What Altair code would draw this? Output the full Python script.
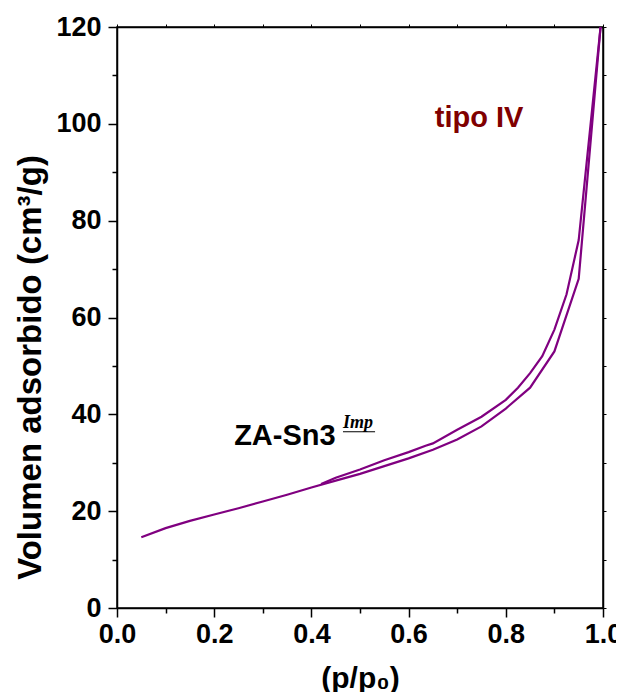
import altair as alt
import pandas as pd

# adsorption branch (lower)
ads_x = [0.05, 0.10, 0.15, 0.20, 0.25, 0.30, 0.35, 0.40, 0.45, 0.50, 0.55, 0.60,
         0.65, 0.70, 0.75, 0.80, 0.85, 0.90, 0.95, 0.995]
ads_y = [14.6, 16.5, 18.0, 19.3, 20.6, 22.0, 23.4, 24.9, 26.3, 27.7, 29.3, 30.9,
         32.7, 34.8, 37.5, 41.2, 45.5, 53.0, 68.0, 120.0]
# desorption branch (upper)
des_x = [0.995, 0.95, 0.925, 0.90, 0.875, 0.85, 0.825, 0.80, 0.75, 0.70, 0.65,
         0.635, 0.60, 0.55, 0.50, 0.45, 0.42]
des_y = [120.0, 76.0, 64.8, 57.5, 52.0, 48.5, 45.5, 43.0, 39.5, 36.8, 34.0,
         33.5, 32.2, 30.5, 28.6, 26.9, 25.6]

x_major = [0.0, 0.2, 0.4, 0.6, 0.8, 1.0]
x_minor = [0.1, 0.3, 0.5, 0.7, 0.9]
x_all = [round(i * 0.1, 1) for i in range(11)]
y_major = [0, 20, 40, 60, 80, 100, 120]
y_minor = [10, 30, 50, 70, 90, 110]
y_all = list(range(0, 130, 10))

rows = []
for i, (x, y) in enumerate(zip(ads_x, ads_y)):
    rows.append({"p": x, "v": y, "branch": "ads", "order": i})
for i, (x, y) in enumerate(zip(des_x, des_y)):
    rows.append({"p": x, "v": y, "branch": "des", "order": i})
df = pd.DataFrame(rows)

FONT = "Liberation Sans"
PURPLE = "#800080"

xscale = alt.Scale(domain=[0, 1.0], nice=False, zero=False)
yscale = alt.Scale(domain=[0, 120], nice=False)

common = dict(grid=False, domainColor="black", domainWidth=1.5, tickColor="black",
              tickWidth=1.5, labelFlush=False, labelOverlap=False)
common_nodomain = {k: v for k, v in common.items() if not k.startswith("domain")}

x_axis = alt.Axis(
    orient="bottom", values=x_major, format=".1f", tickSize=9,
    labelPadding=4, labelFont=FONT, labelFontSize=27, labelFontWeight="bold",
    labelColor="black", title="(p/p₀)", titleFont=FONT, titleFontSize=30,
    titleFontWeight="bold", titleColor="black", titlePadding=16, **common,
)
y_axis = alt.Axis(
    orient="left", values=y_major, tickSize=9,
    labelPadding=7, labelFont=FONT, labelFontSize=27, labelFontWeight="bold",
    labelColor="black", title="Volumen adsorbido (cm³/g)", titleFont=FONT,
    titleFontSize=33, titleFontWeight="bold", titleColor="black", titlePadding=8,
    titleY=340, **common,
)

lines = alt.Chart(df).mark_line(color=PURPLE, strokeWidth=2.2, clip=True).encode(
    x=alt.X("p:Q", scale=xscale, axis=x_axis),
    y=alt.Y("v:Q", scale=yscale, axis=y_axis),
    detail="branch:N",
    order="order:Q",
)

minor = alt.Chart(df).mark_point(opacity=0).encode(
    x=alt.X("p:Q", scale=xscale, axis=alt.Axis(
        orient="bottom", values=x_minor, labels=False, title=None, domain=False,
        tickSize=5, **common_nodomain)),
    y=alt.Y("v:Q", scale=yscale, axis=alt.Axis(
        orient="left", values=y_minor, labels=False, title=None, domain=False,
        tickSize=5, **common_nodomain)),
)

frame = alt.Chart(df).mark_point(opacity=0).encode(
    x=alt.X("p:Q", scale=xscale, axis=alt.Axis(
        orient="top", values=x_all, labels=False, title=None, grid=False,
        tickSize=3, tickColor="black", tickWidth=1, domainColor="black", domainWidth=1.5)),
    y=alt.Y("v:Q", scale=yscale, axis=alt.Axis(
        orient="right", values=y_all, labels=False, title=None, grid=False,
        tickSize=3, tickColor="black", tickWidth=1, domainColor="black", domainWidth=1.5)),
)

lab_tipo = pd.DataFrame({"p": [0.745], "v": [99.4], "t": ["tipo IV"]})
lab_za = pd.DataFrame({"p": [0.241], "v": [33.7], "t": ["ZA-Sn3"]})
lab_imp = pd.DataFrame({"p": [0.465], "v": [37.2], "t": ["Imp"]})
imp_line = pd.DataFrame({"p": [0.465], "p2": [0.531], "v": [36.4]})

t1 = alt.Chart(lab_tipo).mark_text(
    font=FONT, fontSize=29, fontWeight="bold", color="#800000",
    align="center", baseline="alphabetic").encode(
    x=alt.X("p:Q", scale=xscale, axis=None), y=alt.Y("v:Q", scale=yscale, axis=None), text="t:N")
t2 = alt.Chart(lab_za).mark_text(
    font=FONT, fontSize=29, fontWeight="bold", color="black",
    align="left", baseline="alphabetic").encode(
    x=alt.X("p:Q", scale=xscale, axis=None), y=alt.Y("v:Q", scale=yscale, axis=None), text="t:N")
t3 = alt.Chart(lab_imp).mark_text(
    font="Liberation Serif", fontSize=18, fontWeight="bold", fontStyle="italic",
    color="black", align="left", baseline="alphabetic").encode(
    x=alt.X("p:Q", scale=xscale, axis=None), y=alt.Y("v:Q", scale=yscale, axis=None), text="t:N")
u3 = alt.Chart(imp_line).mark_rule(color="black", strokeWidth=1).encode(
    x=alt.X("p:Q", scale=xscale, axis=None), x2="p2:Q",
    y=alt.Y("v:Q", scale=yscale, axis=None))

chart = alt.layer(lines, minor, frame, t1, t2, t3, u3).resolve_axis(
    x="independent", y="independent"
).properties(
    width=486, height=581,
    autosize=alt.AutoSizeParams(type="none"),
    padding={"left": 109, "top": 19, "right": 13, "bottom": 84},
    background="white",
).configure_view(stroke="black", strokeWidth=1.5)

chart.save("out.html", embed_options={"renderer": "svg", "actions": False})
